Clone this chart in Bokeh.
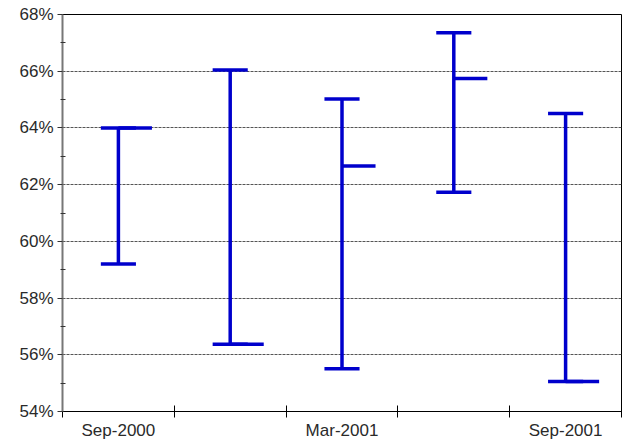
from bokeh.plotting import figure
from bokeh.models import Range1d, FixedTicker, PrintfTickFormatter, ColumnDataSource
from bokeh.embed import file_html
from bokeh.resources import INLINE

# ---- data ----
periods = ["Sep-2000", "Dec-2000", "Mar-2001", "Jun-2001", "Sep-2001"]
shown_labels = ["Sep-2000", "", "Mar-2001", "", "Sep-2001"]
high = [64.0, 66.04, 65.02, 67.36, 64.51]
low = [59.2, 56.37, 55.51, 61.73, 55.06]
close = [64.0, 56.37, 62.66, 65.74, 55.06]
y_ticks = [54, 56, 58, 60, 62, 64, 66, 68]
y_minor = [55, 57, 59, 61, 63, 65, 67]

BLUE = "#0000CC"
FONT = "Liberation Sans"
LW = 3.5
CAP = 0.157
TICK = 0.30

n = len(periods)
xc = [i + 0.5 for i in range(n)]

src = ColumnDataSource(dict(
    x=xc,
    xl=[v - CAP for v in xc],
    xr=[v + CAP for v in xc],
    xt=[v + TICK for v in xc],
    high=high, low=low, close=close,
))

p = figure(width=624, height=442, output_backend="svg", toolbar_location=None,
           x_range=Range1d(0, n), y_range=Range1d(54, 68),
           min_border_left=62, min_border_right=3, min_border_top=14, min_border_bottom=31,
           background_fill_color="white", border_fill_color="white")

p.outline_line_color = "#000000"
p.outline_line_width = 1

# high-low lines
p.segment(x0="x", y0="low", x1="x", y1="high", source=src, line_color=BLUE, line_width=LW)
p.segment(x0="xl", y0="high", x1="xr", y1="high", source=src, line_color=BLUE, line_width=LW)
p.segment(x0="xl", y0="low", x1="xr", y1="low", source=src, line_color=BLUE, line_width=LW)
p.segment(x0="x", y0="close", x1="xt", y1="close", source=src, line_color=BLUE, line_width=LW)

# x axis
xax = p.xaxis[0]
xax.ticker = FixedTicker(ticks=xc, minor_ticks=list(range(n + 1)))
xax.major_label_overrides = {v: lab for v, lab in zip(xc, shown_labels)}
xax.major_tick_in = 0
xax.major_tick_out = 0
xax.minor_tick_in = 6
xax.minor_tick_out = 6
xax.minor_tick_line_color = "#000000"
xax.axis_line_color = "#000000"
xax.major_label_standoff = 3
xax.major_label_text_font = FONT
xax.major_label_text_font_size = "17px"
xax.major_label_text_color = "#2a2a2a"

# y axis
yax = p.yaxis[0]
yax.ticker = FixedTicker(ticks=y_ticks, minor_ticks=y_minor)
yax.formatter = PrintfTickFormatter(format="%d%%")
yax.major_tick_in = 0
yax.major_tick_out = 5
yax.minor_tick_in = 3
yax.minor_tick_out = 2
yax.axis_line_color = "#777777"
yax.axis_line_width = 2
yax.major_tick_line_color = "#333333"
yax.minor_tick_line_color = "#333333"
yax.major_label_standoff = 4
yax.major_label_text_font = FONT
yax.major_label_text_font_size = "17px"
yax.major_label_text_color = "#2a2a2a"

p.xgrid.visible = False
p.ygrid.ticker = FixedTicker(ticks=[56, 58, 60, 62, 64, 66])
p.ygrid.grid_line_color = "#555555"
p.ygrid.grid_line_dash = "3 1"
p.ygrid.grid_line_width = 1

open("out.html", "w").write(file_html(p, INLINE))
